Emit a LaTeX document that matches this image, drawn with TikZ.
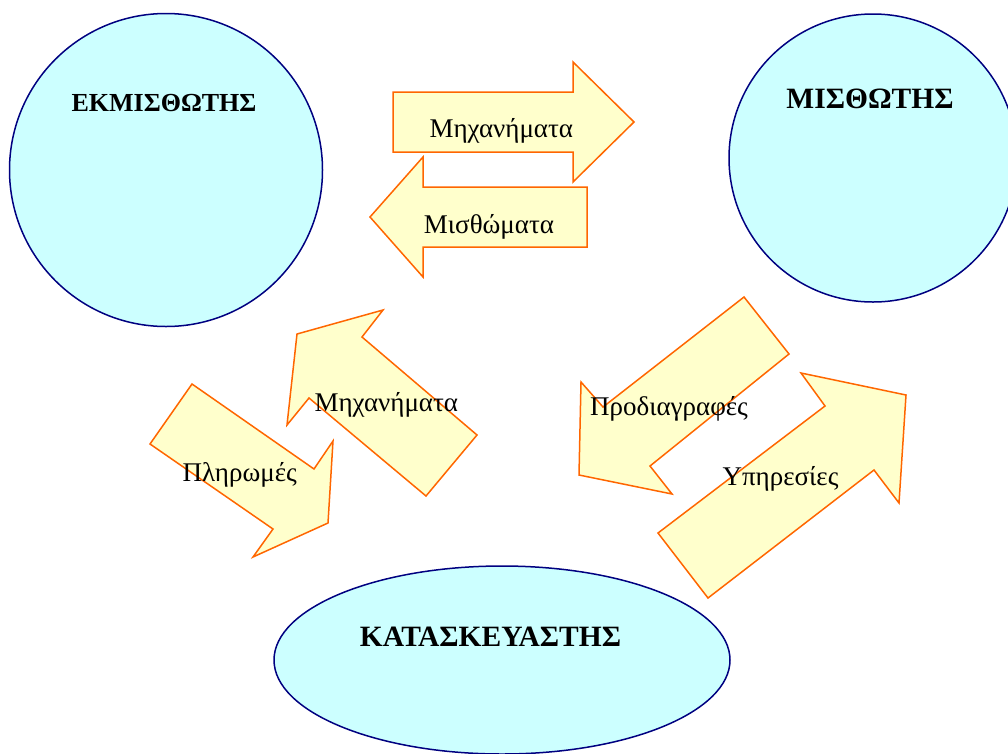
\documentclass[tikz,border=0pt]{standalone}
\usepackage{fontspec}
\setmainfont{Liberation Serif}
\usetikzlibrary{shapes.geometric}
\definecolor{partycyan}{RGB}{204,255,255}
\definecolor{partynavy}{RGB}{0,0,128}
\definecolor{flowyellow}{RGB}{255,255,204}
\definecolor{floworange}{RGB}{255,102,0}
\tikzset{
  party/.style={draw=partynavy, fill=partycyan, line width=1.5pt, inner sep=0pt},
  partyname/.style={font=\fontsize{29.5}{34}\selectfont\bfseries, anchor=base},
  flow/.style={draw=floworange, fill=flowyellow, line width=1.5pt, line join=miter},
  flowname/.style={font=\fontsize{27}{31}\selectfont, anchor=base}
}

\begin{document}
\begin{tikzpicture}[x=1pt, y=-1pt]
        \useasboundingbox (0,0) rectangle (1008,753);
        % the three parties
        \node[party, circle, minimum size=313pt] (lessor) at (166,170) {};
        \node[party, circle, minimum size=288pt] (lessee) at (873,158) {};
        \node[party, ellipse, minimum width=456pt, minimum height=188pt] (maker) at (502,660) {};
        \node[partyname, font=\fontsize{26}{30}\selectfont\bfseries] (lessorname) at (164,111.7) {ΕΚΜΙΣΘΩΤΗΣ};
        \node[partyname] (lesseename) at (870,108.3) {ΜΙΣΘΩΤΗΣ};
        \node[partyname] (makername) at (490.5,646) {ΚΑΤΑΣΚΕΥΑΣΤΗΣ};
        % block arrows
        \draw[flow] (393,92) -- (573,92) -- (573,62) -- (634,122) -- (573,182) -- (573,152) -- (393,152) -- cycle;
        \draw[flow] (587,187) -- (423,187) -- (423,157) -- (370,217) -- (423,277) -- (423,247) -- (587,247) -- cycle;
        \draw[flow] (477,435) -- (362,337) -- (383,310) -- (297,334) -- (287,425) -- (309,398) -- (426,496) -- cycle;
        \draw[flow] (192,384) -- (314,469) -- (333,441) -- (328,523) -- (253,557) -- (273,529) -- (150,444) -- cycle;
        \draw[flow] (744,297) -- (789,354) -- (650,466) -- (672,494) -- (579,475) -- (581,382) -- (603,407) -- cycle;
        \draw[flow] (658,533) -- (825,406) -- (801,373) -- (906,395) -- (899,503) -- (874,470) -- (708,598) -- cycle;
        \node[flowname] (machinesout) at (501.3,137.3) {Μηχανήματα};
        \node[flowname] (rents) at (489,233.3) {Μισθώματα};
        \node[flowname] (machinesin) at (386.3,411) {Μηχανήματα};
        \node[flowname] (payments) at (239.7,481.7) {Πληρωμές};
        \node[flowname] (specs) at (669,415) {Προδιαγραφές};
        \node[flowname] (services) at (780.5,485) {Υπηρεσίες};
    \end{tikzpicture}
\end{document}
